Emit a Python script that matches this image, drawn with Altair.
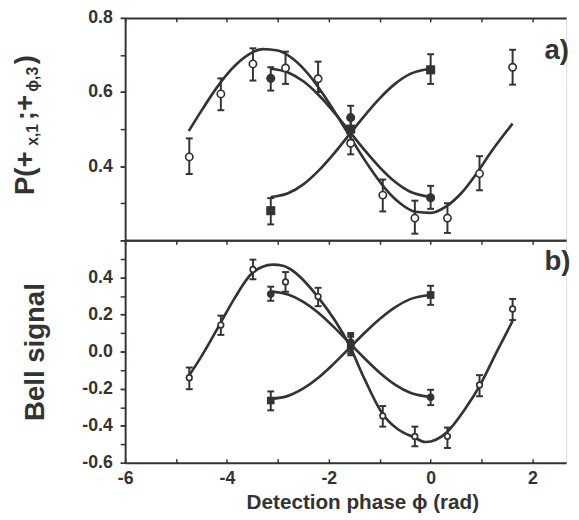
import altair as alt
import pandas as pd

INK = "#333333"
FONT = "Liberation Sans"

# ---------------- data ----------------
X_MIN, X_MAX = -6, 2.66
X_LABEL_TICKS = [-6, -4, -2, 0, 2]
X_ALL_TICKS = [-6, -5, -4, -3, -2, -1, 0, 1, 2]
X_TITLE = "Detection phase ϕ (rad)"

A_Y_LABELS = [0.4, 0.6, 0.8]
A_Y_TICKS = [0.2, 0.3, 0.4, 0.5, 0.6, 0.7, 0.8]
B_Y_LABELS = [-0.6, -0.4, -0.2, 0.0, 0.2, 0.4]
B_Y_TICKS = [-0.6, -0.5, -0.4, -0.3, -0.2, -0.1, 0.0, 0.1, 0.2, 0.3, 0.4, 0.5, 0.6]

open_x = [-4.74, -4.12, -3.49, -2.85, -2.21, -1.57, -0.94, -0.31, 0.33, 0.96, 1.61]
ab_x = [-3.14, -1.57, 0.0]

# panel a)
a_open_y = [0.425, 0.595, 0.676, 0.665, 0.636, 0.462, 0.322, 0.260, 0.260, 0.380, 0.667]
a_open_lo = [0.379, 0.551, 0.631, 0.622, 0.600, 0.432, 0.278, 0.218, 0.220, 0.335, 0.620]
a_open_hi = [0.475, 0.637, 0.718, 0.709, 0.682, 0.492, 0.364, 0.307, 0.300, 0.427, 0.714]
a_circ_y = [0.637, 0.531, 0.315]
a_circ_lo = [0.604, 0.500, 0.285]
a_circ_hi = [0.667, 0.563, 0.347]
a_sq_y = [0.280, 0.500, 0.660]
a_sq_lo = [0.243, 0.470, 0.622]
a_sq_hi = [0.314, 0.530, 0.702]

a_fit_open_x = [-4.75, -4.5, -4.2, -3.9, -3.6, -3.3, -3.0, -2.7, -2.4, -2.1, -1.8, -1.5,
                -1.2, -0.9, -0.6, -0.3, 0.0, 0.3, 0.6, 0.9, 1.2, 1.61]
a_fit_open_y = [0.495, 0.550, 0.612, 0.663, 0.699, 0.716, 0.712, 0.689, 0.648, 0.592, 0.528, 0.461,
                0.397, 0.341, 0.300, 0.277, 0.274, 0.291, 0.327, 0.380, 0.441, 0.515]
ab_fit_x = [-3.14, -2.8, -2.5, -2.2, -1.9, -1.6, -1.3, -1.0, -0.7, -0.4, 0.0]
a_fit_circ_y = [0.663, 0.653, 0.629, 0.592, 0.546, 0.495, 0.444, 0.397, 0.358, 0.331, 0.317]
a_fit_sq_y = [0.317, 0.327, 0.351, 0.388, 0.434, 0.485, 0.536, 0.583, 0.622, 0.649, 0.663]

# panel b)
b_open_y = [-0.141, 0.143, 0.443, 0.376, 0.297, 0.030, -0.347, -0.458, -0.457, -0.180, 0.230]
b_open_lo = [-0.203, 0.090, 0.390, 0.323, 0.245, -0.020, -0.405, -0.511, -0.520, -0.241, 0.170]
b_open_hi = [-0.086, 0.194, 0.496, 0.429, 0.344, 0.080, -0.294, -0.405, -0.410, -0.127, 0.284]
b_circ_y = [0.310, 0.050, -0.247]
b_circ_lo = [0.274, 0.000, -0.289]
b_circ_hi = [0.350, 0.100, -0.206]
b_sq_y = [-0.264, 0.030, 0.305]
b_sq_lo = [-0.317, -0.010, 0.252]
b_sq_hi = [-0.215, 0.090, 0.355]

b_fit_open_x = [-4.78, -4.51, -4.14, -3.87, -3.5, -3.3, -3.1, -2.9, -2.77, -2.2, -1.61, -1.29,
                -0.94, -0.65, -0.33, -0.1, 0.32, 0.65, 0.99, 1.3, 1.61]
b_fit_open_y = [-0.144, -0.030, 0.147, 0.279, 0.425, 0.458, 0.469, 0.463, 0.447, 0.290, 0.041, -0.153,
                -0.338, -0.418, -0.462, -0.488, -0.435, -0.320, -0.171, 0.000, 0.165]
b_fit_circ_y = [0.325, 0.308, 0.268, 0.208, 0.132, 0.048, -0.036, -0.114, -0.178, -0.222, -0.245]
b_fit_sq_y = [-0.255, -0.239, -0.199, -0.140, -0.065, 0.017, 0.100, 0.176, 0.239, 0.283, 0.305]

A_TITLE_PARTS = ["P(+", "x,1", ";+", "ϕ,3", ")"]
B_TITLE = "Bell signal"
PANEL_TAGS = ["a)", "b)"]

# ---------------- tables ----------------
def points_table(oy, olo, ohi, cy, clo, chi, sy, slo, shi):
    frames = [
        pd.DataFrame({"x": open_x, "y": oy, "lo": olo, "hi": ohi, "kind": "open"}),
        pd.DataFrame({"x": ab_x, "y": cy, "lo": clo, "hi": chi, "kind": "circle"}),
        pd.DataFrame({"x": ab_x, "y": sy, "lo": slo, "hi": shi, "kind": "square"}),
    ]
    return pd.concat(frames, ignore_index=True)


def fits_table(ox, oy, cy, sy):
    frames = [
        pd.DataFrame({"x": ox, "y": oy, "curve": "open"}),
        pd.DataFrame({"x": ab_fit_x, "y": cy, "curve": "circle"}),
        pd.DataFrame({"x": ab_fit_x, "y": sy, "curve": "square"}),
    ]
    return pd.concat(frames, ignore_index=True)


pts_a = points_table(a_open_y, a_open_lo, a_open_hi, a_circ_y, a_circ_lo, a_circ_hi, a_sq_y, a_sq_lo, a_sq_hi)
pts_b = points_table(b_open_y, b_open_lo, b_open_hi, b_circ_y, b_circ_lo, b_circ_hi, b_sq_y, b_sq_lo, b_sq_hi)
fit_a = fits_table(a_fit_open_x, a_fit_open_y, a_fit_circ_y, a_fit_sq_y)
fit_b = fits_table(b_fit_open_x, b_fit_open_y, b_fit_circ_y, b_fit_sq_y)

W, H = 448, 226
STYLE = dict(domainColor=INK, tickColor=INK, labelColor=INK, titleColor=INK,
             labelFont=FONT, titleFont=FONT, labelFontWeight="bold",
             titleFontWeight="bold", grid=False)
MINUS_FIX_1 = "replace(format(datum.value, '.1f'), '\u2212', '-')"
MINUS_FIX_0 = "replace(format(datum.value, 'd'), '\u2212', '-')"


def panel(pts, fits, ydom, ylabels, yticks, ytitle, bottom, tag, tag_y, open_size, solid_size, extra):
    xsc = alt.Scale(domain=[X_MIN, X_MAX], nice=False, zero=False)
    ysc = alt.Scale(domain=ydom, nice=False, zero=False)

    ylab_kw = dict(orient="left", values=ylabels, labelExpr=MINUS_FIX_1, ticks=True, tickSize=5,
                   tickWidth=1.5, domain=True, domainWidth=2, labelPadding=8,
                   labelFontSize=18, **STYLE)
    if ytitle:
        ylab = alt.Axis(title=ytitle, titleX=-83, titleY=H / 2, titleAngle=270,
                        titleAlign="center", titleBaseline="alphabetic",
                        titleFontSize=28, **ylab_kw)
    else:
        ylab = alt.Axis(title=None, **ylab_kw)
    ytick = alt.Axis(orient="left", values=yticks, labels=False, ticks=True, tickSize=5,
                     tickWidth=1.5, domain=False, title=None, **STYLE)

    if bottom:
        xlab = alt.Axis(orient="bottom", values=X_LABEL_TICKS, labelExpr=MINUS_FIX_0,
                        ticks=False, tickSize=0, labelPadding=7, labelFlush=False,
                        labelOverlap=False, labelFontSize=18, domainWidth=2,
                        title=X_TITLE, titleX=241, titleY=46, titleAlign="center",
                        titleBaseline="alphabetic", titleFontSize=21, **STYLE)
    else:
        xlab = alt.Axis(orient="bottom", values=X_LABEL_TICKS, labels=False, ticks=False,
                        tickSize=0, domainWidth=2, title=None, **STYLE)
    xtop = alt.Axis(orient="bottom", offset=-H, values=X_ALL_TICKS, labels=False,
                    ticks=True, tickSize=4, tickWidth=1.5, domainWidth=2, title=None, **STYLE)
    xin = alt.Axis(orient="top", offset=-H, values=X_ALL_TICKS, labels=False,
                   ticks=True, tickSize=4, tickWidth=1.5, domain=False, title=None, **STYLE)

    lines = alt.Chart(fits).mark_line(color=INK, strokeWidth=2.7, interpolate="monotone").encode(
        x=alt.X("x:Q", scale=xsc, axis=xlab),
        y=alt.Y("y:Q", scale=ysc, axis=ylab),
        detail="curve:N",
    )
    bars = alt.Chart(pts).mark_rule(color=INK, strokeWidth=2).encode(
        x=alt.X("x:Q", scale=xsc, axis=xtop),
        y=alt.Y("lo:Q", scale=ysc, axis=ytick),
        y2="hi:Q",
    )
    caps_lo = alt.Chart(pts).mark_tick(color=INK, orient="horizontal", size=7, thickness=2, opacity=1).encode(
        x=alt.X("x:Q", scale=xsc, axis=xin if bottom else None),
        y=alt.Y("lo:Q", scale=ysc, axis=None),
    )
    caps_hi = alt.Chart(pts).mark_tick(color=INK, orient="horizontal", size=7, thickness=2, opacity=1).encode(
        x=alt.X("x:Q", scale=xsc, axis=None),
        y=alt.Y("hi:Q", scale=ysc, axis=None),
    )
    p_open = alt.Chart(pts).transform_filter("datum.kind == 'open'").mark_point(
        shape="circle", filled=True, fill="white", stroke=INK, strokeWidth=1.7,
        size=open_size, opacity=1).encode(
        x=alt.X("x:Q", scale=xsc, axis=None), y=alt.Y("y:Q", scale=ysc, axis=None))
    p_circ = alt.Chart(pts).transform_filter("datum.kind == 'circle'").mark_point(
        shape="circle", filled=True, color=INK, size=solid_size, opacity=1).encode(
        x=alt.X("x:Q", scale=xsc, axis=None), y=alt.Y("y:Q", scale=ysc, axis=None))
    p_sq = alt.Chart(pts).transform_filter("datum.kind == 'square'").mark_point(
        shape="square", filled=True, color=INK, size=solid_size, opacity=1).encode(
        x=alt.X("x:Q", scale=xsc, axis=None), y=alt.Y("y:Q", scale=ysc, axis=None))

    tag_layer = alt.Chart(pd.DataFrame({"t": [tag]})).mark_text(
        align="left", baseline="alphabetic", font=FONT, fontSize=28, fontWeight="bold",
        color=INK).encode(x=alt.value(426), y=alt.value(tag_y), text="t:N")

    layers = [lines, bars, caps_lo, caps_hi, p_open, p_circ, p_sq, tag_layer] + extra
    return alt.layer(*layers).resolve_axis(x="independent", y="independent").properties(width=W, height=H)


# rotated y-title of panel a) with subscripts, built from pieces
def title_piece(text, ypos, xpos, size):
    return alt.Chart(pd.DataFrame({"t": [text]})).mark_text(
        align="left", baseline="alphabetic", angle=270, font=FONT, fontSize=size,
        fontWeight="bold", color=INK).encode(x=alt.value(xpos), y=alt.value(ypos), text="t:N")


piece_pos = [(180, -93, 28), (130, -89, 16), (104, -93, 28), (75, -89, 16), (47, -93, 28)]
a_title = [title_piece(t, p[0], p[1], p[2]) for t, p in zip(A_TITLE_PARTS, piece_pos)]

top = panel(pts_a, fit_a, [0.2, 0.8], A_Y_LABELS, A_Y_TICKS, None, False,
            PANEL_TAGS[0], 42, 55, 85, a_title)
bot = panel(pts_b, fit_b, [-0.6, 0.6], B_Y_LABELS, B_Y_TICKS, B_TITLE, True,
            PANEL_TAGS[1], 30, 32, 60, [])

chart = alt.vconcat(top, bot, spacing=0, bounds="flush").properties(
    padding={"left": 3, "top": -4, "right": 0, "bottom": 0}
).configure_view(strokeWidth=0).configure(background="white")

chart.save("out.html", embed_options={"renderer": "svg", "actions": False})
